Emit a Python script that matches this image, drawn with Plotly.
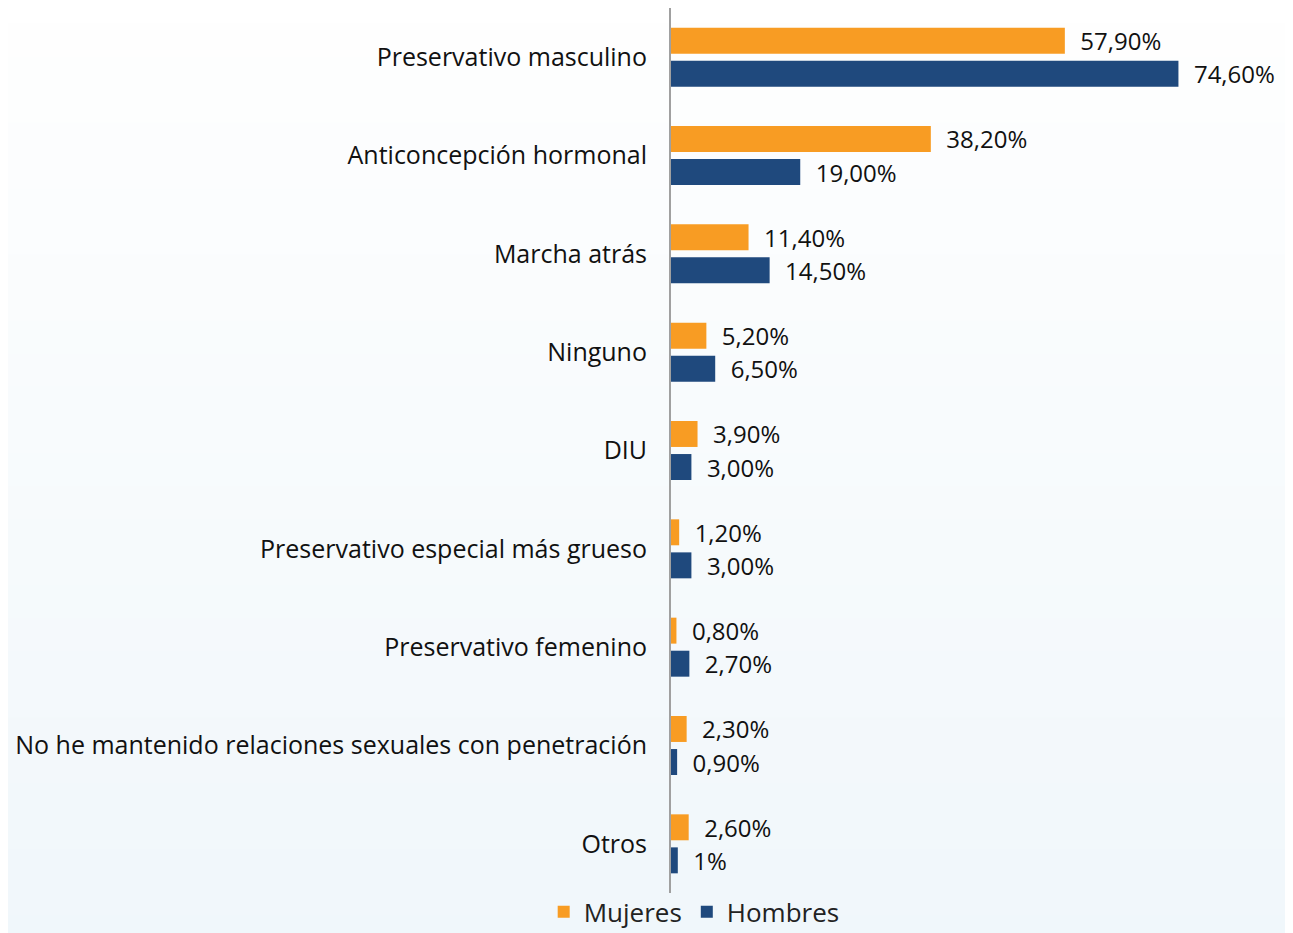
import plotly.graph_objects as go

categories = [
    "Preservativo masculino",
    "Anticoncepción hormonal",
    "Marcha atrás",
    "Ninguno",
    "DIU",
    "Preservativo especial más grueso",
    "Preservativo femenino",
    "No he mantenido relaciones sexuales con penetración",
    "Otros",
]
mujeres = [57.9, 38.2, 11.4, 5.2, 3.9, 1.2, 0.8, 2.3, 2.6]
hombres = [74.6, 19.0, 14.5, 6.5, 3.0, 3.0, 2.7, 0.9, 1.0]
mujeres_labels = ["57,90%", "38,20%", "11,40%", "5,20%", "3,90%", "1,20%", "0,80%", "2,30%", "2,60%"]
hombres_labels = ["74,60%", "19,00%", "14,50%", "6,50%", "3,00%", "3,00%", "2,70%", "0,90%", "1%"]

ORANGE = "#F89C23"
BLUE = "#1F497D"
label_font = dict(family="Open Sans", size=24, color="#111111")

fig = go.Figure()
fig.add_trace(go.Bar(
    name="Mujeres", y=categories, x=mujeres, orientation="h",
    marker=dict(color=ORANGE, line=dict(width=0)),
    width=0.264, offset=-0.3,
    text=["  " + t for t in mujeres_labels], textposition="outside",
    textfont=label_font, cliponaxis=False, constraintext="none",
))
fig.add_trace(go.Bar(
    name="Hombres", y=categories, x=hombres, orientation="h",
    marker=dict(color=BLUE, line=dict(width=0)),
    width=0.264, offset=0.036,
    text=["  " + t for t in hombres_labels], textposition="outside",
    textfont=label_font, cliponaxis=False, constraintext="none",
))

# faint background gradient (white -> light blue)
shapes = []
n = 30
y_lo, y_hi = -0.1, 1.02
for i in range(n):
    t = i / (n - 1)
    r = int(255 - t * 15)
    g = int(255 - t * 8)
    b = int(255 - t * 4)
    top = y_hi - (y_hi - y_lo) * i / n
    bot = y_hi - (y_hi - y_lo) * (i + 1) / n
    shapes.append(dict(type="rect", xref="paper", yref="paper",
                       x0=-2, x1=2, y0=bot - 0.005, y1=top,
                       fillcolor=f"rgb({r},{g},{b})", line=dict(width=0),
                       layer="below"))

fig.update_layout(
    width=1285, height=925,
    margin=dict(l=663, r=3, t=0, b=40, autoexpand=False),
    barmode="overlay",
    paper_bgcolor="white",
    plot_bgcolor="rgba(0,0,0,0)",
    shapes=shapes,
    showlegend=True,
    legend=dict(orientation="h", xref="container", yref="container",
                x=0.534, xanchor="center", y=0.023, yanchor="middle",
                font=dict(family="Open Sans", size=26, color="#222222"),
                bgcolor="rgba(0,0,0,0)", itemwidth=30, tracegroupgap=0),
    xaxis=dict(range=[0, 91], visible=False, fixedrange=True),
    yaxis=dict(autorange="reversed", showline=True, linecolor="#A0A0A0", linewidth=2,
               ticks="outside", ticklen=17, tickcolor="rgba(0,0,0,0)",
               tickfont=dict(family="Open Sans", size=25, color="#111111"),
               showgrid=False, zeroline=False),
)

fig.write_html("out.html")
